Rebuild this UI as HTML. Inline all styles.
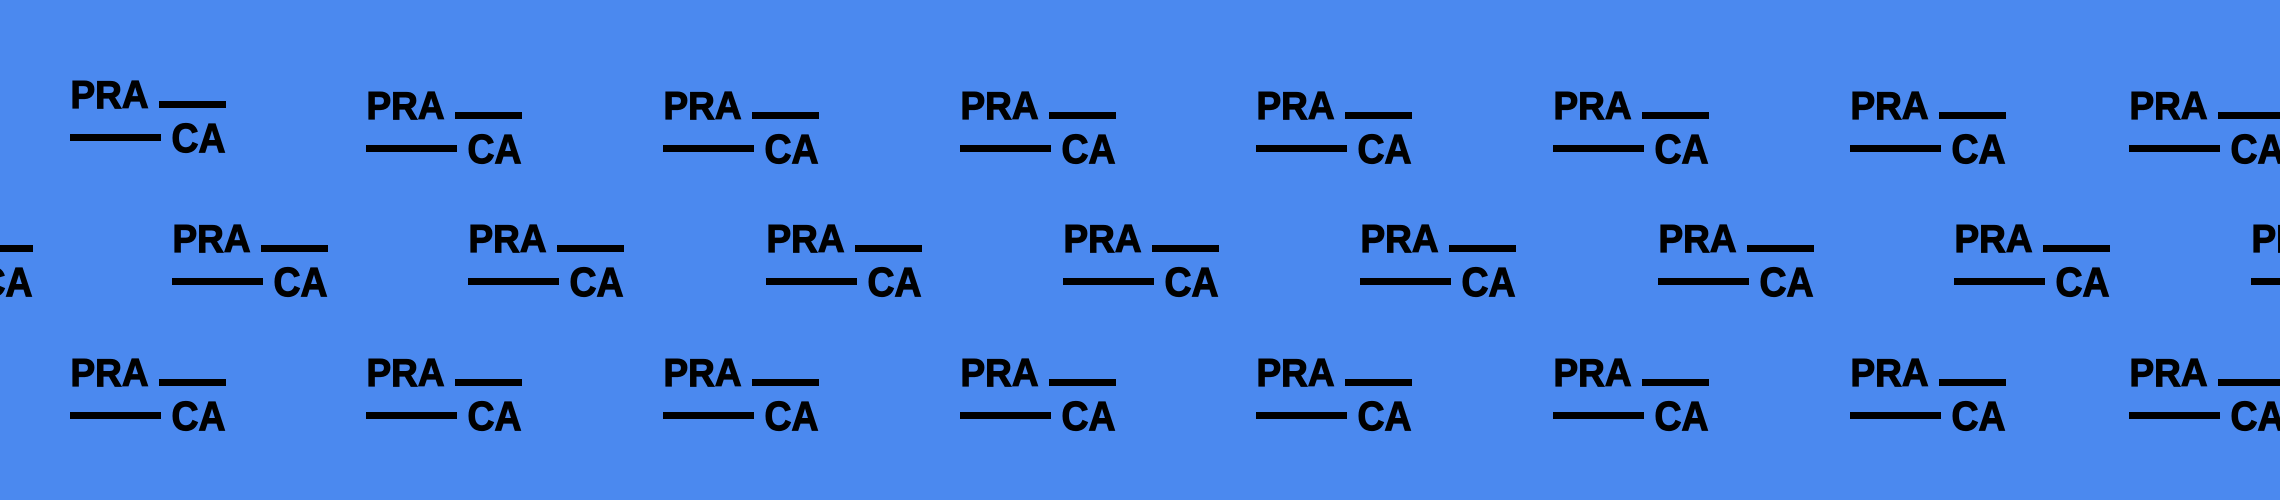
<!DOCTYPE html>
<html><head><meta charset="utf-8"><style>
html,body{margin:0;padding:0;background:#4b89ef;}
svg{display:block}
text{font-family:"Liberation Sans",sans-serif;font-weight:bold;fill:#000;stroke:#000;stroke-width:1.2px;}
</style></head><body>
<svg width="2280" height="500" viewBox="0 0 2280 500" xmlns="http://www.w3.org/2000/svg">
<rect width="2280" height="500" fill="#4b89ef"/>
<g id="all"></g>
</svg>
<script>
(function(){
var g=document.getElementById('all');
function logo(x,y){
  return '<g transform="translate('+x+','+y+')">'+
  '<text x="0.5" y="28" font-size="39" textLength="78" lengthAdjust="spacingAndGlyphs">PRA</text>'+
  '<rect x="89" y="21" width="67" height="7" fill="#000"/>'+
  '<rect x="0" y="54" width="91" height="7" fill="#000"/>'+
  '<text x="101.5" y="72" font-size="41" textLength="54" lengthAdjust="spacingAndGlyphs">CA</text>'+
  '</g>';
}
var h='';
var r1=[70,366,663,960,1256,1553,1850,2129];
var r2=[-123,172,468,766,1063,1360,1658,1954,2251];
r1.forEach(function(x,i){h+=logo(x,i==0?80:91);});
r2.forEach(function(x){h+=logo(x,224);});
r1.forEach(function(x){h+=logo(x,358);});
g.innerHTML=h;
})();
</script>
</body></html>
